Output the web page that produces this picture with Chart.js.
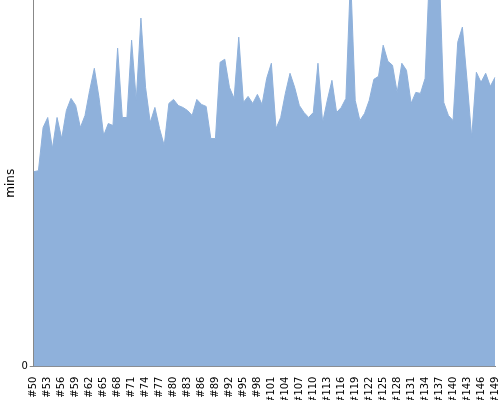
<!DOCTYPE html>
<html>
<head>
<meta charset="utf-8">
<script src="https://cdn.jsdelivr.net/npm/chart.js@4"></script>
<style>
  body { margin: 0; background: #fff; }
  #wrap { width: 500px; height: 400px; }
</style>
</head>
<body>
<div id="wrap"><canvas id="minsChart"></canvas></div>
<script>
// build numbers #50 .. #149
const builds = [];
for (let n = 50; n <= 149; n++) builds.push('#' + n);

// minutes per build
const minutes = [
  194, 195, 238, 248, 217, 248, 227, 255, 267, 260,
  238, 250, 275, 297, 268, 230, 242, 240, 317, 248,
  248, 325, 265, 347, 278, 243, 258, 237, 220, 262,
  266, 260, 258, 255, 250, 266, 261, 259, 227, 227,
  303, 306, 278, 267, 328, 263, 269, 262, 271, 261,
  287, 302, 237, 248, 272, 292, 278, 260, 253, 248,
  253, 302, 243, 265, 285, 253, 258, 267, 390, 265,
  245, 252, 265, 286, 289, 320, 304, 300, 273, 302,
  295, 262, 273, 272, 287, 400, 410, 400, 263, 250,
  245, 323, 338, 285, 228, 293, 283, 292, 279, 288
];

const yMax = 365;

const ctx = document.getElementById('minsChart').getContext('2d');
const minsChart = new Chart(ctx, {
    type: 'line',
    data: {
        labels: builds,
        datasets: [{
            data: minutes,
            fill: 'origin',
            backgroundColor: 'rgb(143, 177, 219)',
            borderColor: 'rgb(143, 177, 219)',
            borderWidth: 1,
            pointRadius: 0,
            tension: 0
        }]
    },
    options: {
        responsive: true,
        maintainAspectRatio: false,
        animation: false,
        layout: { padding: { top: 0, left: 3, right: 0, bottom: -6 } },
        plugins: { legend: { display: false }, tooltip: { enabled: false } },
        scales: {
            x: {
                afterFit: (axis) => { axis.paddingRight = 5; },
                grid: { display: false },
                border: { display: true, color: '#888' },
                ticks: {
                    autoSkip: false,
                    minRotation: 90,
                    maxRotation: 90,
                    color: '#000',
                    font: { family: 'DejaVu Sans', size: 10 },
                    padding: 2,
                    callback: function (v, i) { return i % 3 === 0 ? this.getLabelForValue(v) : ''; }
                }
            },
            y: {
                min: 0,
                max: yMax,
                afterBuildTicks: (axis) => { axis.ticks = [{ value: 0 }]; },
                afterFit: (axis) => { axis.paddingTop = 0; },
                grid: {
                    drawOnChartArea: false,
                    tickLength: 4,
                    color: '#888'
                },
                border: { display: true, color: '#888' },
                ticks: {
                    color: '#000',
                    font: { family: 'DejaVu Sans', size: 10 },
                    padding: 2
                },
                title: {
                    display: true,
                    text: 'mins',
                    color: '#000',
                    font: { family: 'DejaVu Sans', size: 12 },
                    padding: 1
                }
            }
        }
    }
});
</script>
</body>
</html>
